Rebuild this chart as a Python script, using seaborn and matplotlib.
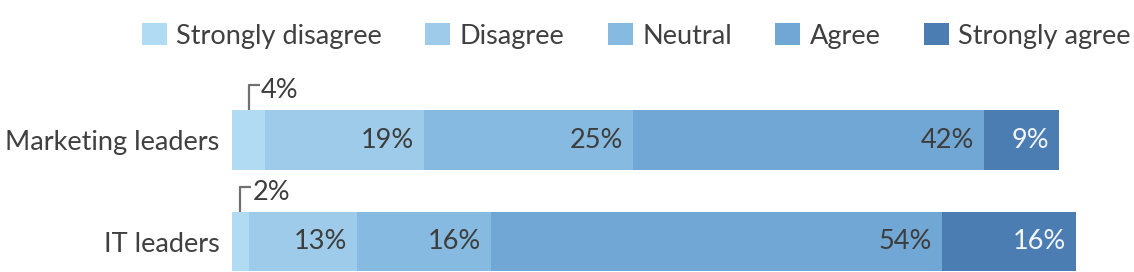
#!/usr/bin/env python3
"""Stacked horizontal bars: agreement levels for marketing vs IT leaders."""

import pandas as pd
import matplotlib
matplotlib.use("Agg")
import matplotlib.pyplot as plt
import seaborn as sns

groups = ["Marketing leaders", "IT leaders"]
levels = ["Strongly disagree", "Disagree", "Neutral", "Agree", "Strongly agree"]
strongly_disagree = [4, 2]
disagree = [19, 13]
neutral = [25, 16]
agree = [42, 54]
strongly_agree = [9, 16]

colors = ["#b1daf3", "#9ecbe9", "#86bae0", "#71a7d4", "#4b7db2"]
label_colors = ["#3d3d3d", "#3d3d3d", "#3d3d3d", "#3d3d3d", "#f2f5f9"]

sns.set_style("white")
plt.rcParams["font.family"] = ["Lato", "DejaVu Sans"]

rows = []
for lvl, vals in zip(levels, [strongly_disagree, disagree, neutral, agree, strongly_agree]):
    for g, v in zip(groups, vals):
        rows.append({"group": g, "level": lvl, "value": v})
df = pd.DataFrame(rows)
df["level"] = pd.Categorical(df["level"], levels, ordered=True)
df = df.sort_values(["group", "level"])
df["end"] = df.groupby("group")["value"].cumsum()
df["start"] = df["end"] - df["value"]

W, H = 1134, 272
fig = plt.figure(figsize=(W / 100, H / 100), dpi=100)
ax = fig.add_axes([232 / W, 0, (W - 232) / W, 1])

bar_w = 0.59
# draw from the longest cumulative segment down so shorter ones sit on top
for lvl, col in reversed(list(zip(levels, colors))):
    sub = df[df["level"] == lvl]
    sns.barplot(data=sub, x="end", y="group", order=groups, color=col,
                orient="h", width=bar_w, errorbar=None, linewidth=0,
                saturation=1, label=lvl, ax=ax)

fs = 19.5
px = 1 / 8.355  # one pixel in data units along x
for _, r in df.iterrows():
    i = groups.index(r["group"])
    k = levels.index(r["level"])
    txt = f"{r['value']}%"
    if r["value"] >= 5:
        ax.text(r["end"] - 10 * px, i, txt, ha="right", va="center",
                fontsize=fs, color=label_colors[k])
    else:
        xm = r["start"] + r["value"] / 2
        top = i - bar_w / 2
        ax.plot([xm, xm, xm + 11 * px], [top, top - 0.245, top - 0.245],
                color="#707070", lw=1.6, solid_capstyle="butt", clip_on=False)
        ax.text(xm + 12 * px, top - 0.19, txt, ha="left", va="center",
                fontsize=fs, color="#3d3d3d")

ax.set_xlim(0, (W - 232) * px)
ax.set_ylim(1.30, -1.379)
ax.set_xlabel("")
ax.set_ylabel("")
ax.set_xticks([])
ax.tick_params(axis="y", length=0, pad=9, labelsize=fs, labelcolor="#404040")
sns.despine(ax=ax, left=True, bottom=True)

handles, labels = ax.get_legend_handles_labels()
order = [labels.index(l) for l in levels]
ax.legend([handles[j] for j in order], levels, ncol=5, frameon=False,
          loc="center left", bbox_to_anchor=(142 / W, 1 - 36 / H),
          bbox_transform=fig.transFigure, fontsize=fs, labelcolor="#404040",
          handlelength=0.92, handleheight=0.88, handletextpad=0.35,
          columnspacing=1.6, borderpad=0, borderaxespad=0)

fig.savefig("out.png", dpi=100)
